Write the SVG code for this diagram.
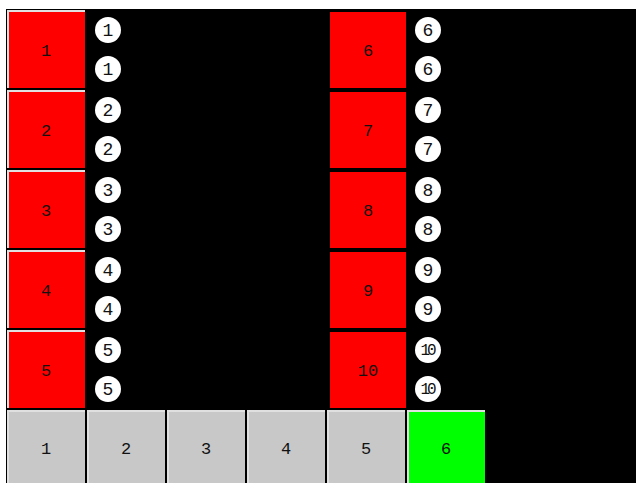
<svg xmlns="http://www.w3.org/2000/svg" width="641" height="483" viewBox="0 0 641 483">
<style>
.bg{fill:#000}
.red{fill:#ff0000}
.gray{fill:#c8c8c8}
.green{fill:#00ff00}
.hl{fill:none;stroke:#e0e0e0;stroke-width:2}
.c{fill:#fff}
.t{font-family:"Liberation Mono","DejaVu Sans Mono",monospace;font-size:17px;fill:#111;text-anchor:middle;dominant-baseline:central}
.ct{font-family:"Liberation Mono","DejaVu Sans Mono",monospace;font-size:18px;fill:#111;text-anchor:middle;dominant-baseline:central}
.ct2{font-family:"Liberation Mono","DejaVu Sans Mono",monospace;font-size:16px;letter-spacing:-3px;fill:#111;text-anchor:middle;dominant-baseline:central}
</style>
<rect width="641" height="483" fill="#fff"/>
<rect class="bg" x="6" y="9" width="630" height="474"/>
<g id="box1"><rect class="red" x="7" y="10" width="78" height="78"/><polyline class="hl" points="8,88 8,11 85,11"/><text class="t" x="46" y="51">1</text></g>
<g id="box2"><rect class="red" x="7" y="90" width="78" height="78"/><polyline class="hl" points="8,168 8,91 85,91"/><text class="t" x="46" y="131">2</text></g>
<g id="box3"><rect class="red" x="7" y="170" width="78" height="78"/><polyline class="hl" points="8,248 8,171 85,171"/><text class="t" x="46" y="211">3</text></g>
<g id="box4"><rect class="red" x="7" y="250" width="78" height="78"/><polyline class="hl" points="8,328 8,251 85,251"/><text class="t" x="46" y="291">4</text></g>
<g id="box5"><rect class="red" x="7" y="330" width="78" height="78"/><polyline class="hl" points="8,408 8,331 85,331"/><text class="t" x="46" y="371">5</text></g>
<g id="box6"><rect class="red" x="330" y="12" width="76" height="76"/><text class="t" x="368" y="51">6</text></g>
<g id="box7"><rect class="red" x="330" y="92" width="76" height="76"/><text class="t" x="368" y="131">7</text></g>
<g id="box8"><rect class="red" x="330" y="172" width="76" height="76"/><text class="t" x="368" y="211">8</text></g>
<g id="box9"><rect class="red" x="330" y="252" width="76" height="76"/><text class="t" x="368" y="291">9</text></g>
<g id="box10"><rect class="red" x="330" y="332" width="76" height="76"/><text class="t" x="368" y="371">10</text></g>
<g id="circles-left">
<circle class="c" cx="108" cy="30" r="13"/><text class="ct" x="108" y="31">1</text>
<circle class="c" cx="108" cy="69" r="13"/><text class="ct" x="108" y="70">1</text>
<circle class="c" cx="108" cy="110" r="13"/><text class="ct" x="108" y="111">2</text>
<circle class="c" cx="108" cy="149" r="13"/><text class="ct" x="108" y="150">2</text>
<circle class="c" cx="108" cy="190" r="13"/><text class="ct" x="108" y="191">3</text>
<circle class="c" cx="108" cy="229" r="13"/><text class="ct" x="108" y="230">3</text>
<circle class="c" cx="108" cy="270" r="13"/><text class="ct" x="108" y="271">4</text>
<circle class="c" cx="108" cy="309" r="13"/><text class="ct" x="108" y="310">4</text>
<circle class="c" cx="108" cy="350" r="13"/><text class="ct" x="108" y="351">5</text>
<circle class="c" cx="108" cy="389" r="13"/><text class="ct" x="108" y="390">5</text>
</g>
<g id="circles-right">
<circle class="c" cx="428" cy="30" r="13"/><text class="ct" x="428" y="31">6</text>
<circle class="c" cx="428" cy="69" r="13"/><text class="ct" x="428" y="70">6</text>
<circle class="c" cx="428" cy="110" r="13"/><text class="ct" x="428" y="111">7</text>
<circle class="c" cx="428" cy="149" r="13"/><text class="ct" x="428" y="150">7</text>
<circle class="c" cx="428" cy="190" r="13"/><text class="ct" x="428" y="191">8</text>
<circle class="c" cx="428" cy="229" r="13"/><text class="ct" x="428" y="230">8</text>
<circle class="c" cx="428" cy="270" r="13"/><text class="ct" x="428" y="271">9</text>
<circle class="c" cx="428" cy="309" r="13"/><text class="ct" x="428" y="310">9</text>
<circle class="c" cx="428" cy="350" r="13"/><text class="ct2" x="427" y="351">10</text>
<circle class="c" cx="428" cy="389" r="13"/><text class="ct2" x="427" y="390">10</text>
</g>
<g id="tab1"><rect class="gray" x="7" y="410" width="78" height="80"/><polyline class="hl" points="8,483 8,411 85,411"/><text class="t" x="46" y="449">1</text></g>
<g id="tab2"><rect class="gray" x="87" y="410" width="78" height="80"/><polyline class="hl" points="88,483 88,411 165,411"/><text class="t" x="126" y="449">2</text></g>
<g id="tab3"><rect class="gray" x="167" y="410" width="78" height="80"/><polyline class="hl" points="168,483 168,411 245,411"/><text class="t" x="206" y="449">3</text></g>
<g id="tab4"><rect class="gray" x="247" y="410" width="78" height="80"/><polyline class="hl" points="248,483 248,411 325,411"/><text class="t" x="286" y="449">4</text></g>
<g id="tab5"><rect class="gray" x="327" y="410" width="78" height="80"/><polyline class="hl" points="328,483 328,411 405,411"/><text class="t" x="366" y="449">5</text></g>
<g id="tab6"><rect class="green" x="407" y="410" width="78" height="80"/><polyline class="hl" points="408,483 408,411 485,411"/><text class="t" x="446" y="449">6</text></g>
</svg>
